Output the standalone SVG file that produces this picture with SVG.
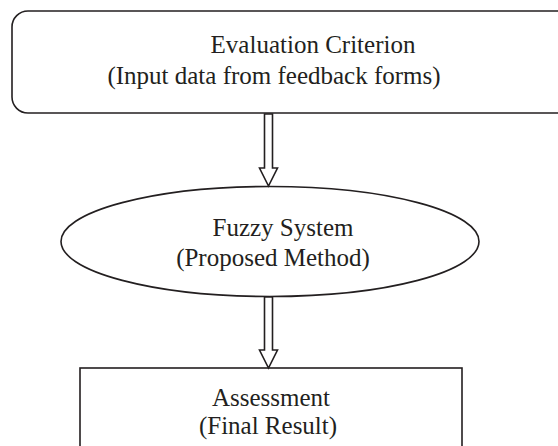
<svg xmlns="http://www.w3.org/2000/svg" width="558" height="446" viewBox="0 0 558 446">
<style>
.s{fill:#fff;stroke:#231f20;stroke-width:1.6}
.t{font-family:"Liberation Serif",serif;font-size:25px;fill:#231f20;text-anchor:middle}
</style>
<rect width="558" height="446" fill="#fff"/>
<g id="evaluation">
<rect class="s" x="12" y="11" width="562" height="102" rx="16" ry="16"/>
<text class="t" x="313" y="53">Evaluation Criterion</text>
<text class="t" x="274" y="84">(Input data from feedback forms)</text>
</g>
<g id="fuzzy">
<ellipse class="s" cx="270" cy="241.5" rx="209" ry="55"/>
<text class="t" x="283" y="236">Fuzzy System</text>
<text class="t" x="273" y="266">(Proposed Method)</text>
</g>
<g id="assessment">
<rect class="s" x="80" y="368" width="382" height="100"/>
<text class="t" x="271" y="406">Assessment</text>
<text class="t" x="268" y="434">(Final Result)</text>
</g>
<g id="connectors">
<polygon class="s" points="264.5,114 272.5,114 272.5,168 277.5,168 268.5,186 259.5,168 264.5,168"/>
<polygon class="s" points="264.5,297 272.5,297 272.5,350 277.5,350 268.5,368 259.5,350 264.5,350"/>
</g>
</svg>
